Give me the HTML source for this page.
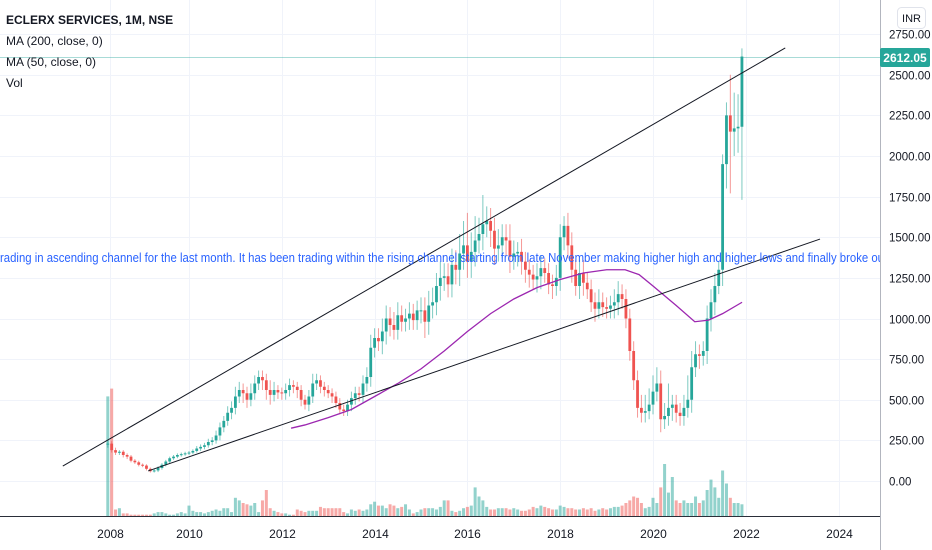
<!DOCTYPE html>
<html><head><meta charset="utf-8">
<style>
html,body{margin:0;padding:0;background:#fff;}
svg{display:block;font-family:"Liberation Sans",sans-serif;}
</style></head>
<body>
<svg id="chart" width="932" height="550" viewBox="0 0 932 550" xmlns="http://www.w3.org/2000/svg">
<defs><clipPath id="plotclip"><rect x="0" y="0" width="880" height="516"/></clipPath></defs>
<g id="grid"></g>
<g id="plot" clip-path="url(#plotclip)"></g>
<line x1="880.5" y1="0" x2="880.5" y2="550" stroke="#b2b5be"/>
<line x1="0" y1="516.5" x2="880" y2="516.5" stroke="#2a2e39"/>
<g id="yaxis"></g>
<g id="xaxis"></g>
<g font-size="12" fill="#131722">
<text x="6" y="24" font-weight="bold">ECLERX SERVICES, 1M, NSE</text>
<text x="6" y="45">MA (200, close, 0)</text>
<text x="6" y="66">MA (50, close, 0)</text>
<text x="6" y="87">Vol</text>
</g>
<g>
<rect x="897.5" y="7.5" width="28" height="21" rx="4" fill="#fff" stroke="#e0e3eb"/>
<text x="911.5" y="22" font-size="11" fill="#131722" text-anchor="middle">INR</text>
</g>
</svg>
<script>
const years=[2008,2009,2010,2011,2012,2013,2014,2015,2016,2017,2018,2019,2020,2021];
const closes=[
230,190,175,180,160,150,125,115,100,
95,75,60,65,80,100,120,140,150,160,165,170,
175,185,200,210,220,240,250,280,330,370,420,450,
520,560,540,500,540,600,640,620,560,530,560,545,
540,560,590,580,560,500,470,520,600,620,580,560,
540,520,480,440,430,470,510,540,530,600,640,820,
880,860,920,1000,960,930,1020,980,1000,1030,990,1050,
1050,980,1080,1100,1200,1250,1260,1210,1330,1300,1400,1450,
1350,1410,1480,1520,1580,1600,1540,1430,1450,1500,1480,1380,
1400,1410,1350,1300,1270,1240,1260,1310,1280,1210,1200,1250,
1500,1570,1450,1300,1200,1280,1220,1180,1100,1060,1100,1070,
1060,1080,1100,1150,1120,1000,800,620,450,420,430,470,
550,600,380,400,450,470,420,400,450,500,700,780,
770,800,1000,1100,1200,1300,1950,2250,2150,2170,2180,2612];
const wickUp=[
20,15,15,10,10,10,10,10,10,
8,8,8,10,10,10,10,10,10,10,10,10,
10,10,15,15,15,20,20,30,30,30,40,40,
60,50,40,40,60,50,40,40,40,60,50,30,
30,40,40,30,30,30,30,40,60,40,30,30,
30,30,30,30,30,30,40,40,40,50,60,80,
60,60,80,80,70,80,80,60,60,70,60,60,
80,80,90,90,80,100,80,80,100,90,120,150,
200,120,150,100,180,90,80,80,100,80,80,100,
80,60,80,60,60,60,80,80,60,60,60,80,
80,60,80,80,60,80,80,60,60,60,80,60,
60,60,80,80,60,60,60,60,60,80,100,100,
100,100,80,80,150,60,60,60,80,150,100,80,
60,60,80,80,80,50,60,80,250,220,200,50];
const wickDn=[
20,15,15,15,15,15,10,10,10,
10,10,8,8,10,10,10,10,10,10,10,10,
10,10,10,15,15,15,20,20,30,30,30,40,
40,40,60,50,40,40,40,60,60,60,40,40,
40,40,40,40,50,40,30,40,40,40,40,40,
30,40,30,30,30,30,40,40,40,50,50,60,
60,60,80,80,70,60,60,60,60,70,60,60,
80,100,80,80,80,90,80,80,80,90,100,100,
100,100,90,80,100,80,100,100,80,80,90,100,
80,80,80,80,80,60,80,80,60,60,80,60,
80,80,80,80,60,80,80,60,60,80,60,60,
60,60,80,80,60,60,60,60,60,60,60,50,
60,60,80,60,60,80,60,60,60,60,80,60,
80,60,80,80,80,50,100,150,380,150,150,450];
const volumes=[
92,98,5,6,2,2,1,1,1,
1,1,1,2,3,3,2,1,1,2,3,2,
8,4,3,3,2,3,4,5,4,6,6,3,
14,12,10,9,8,10,3,12,20,6,4,3,
2,2,1,1,5,4,3,4,4,4,7,6,
6,6,6,6,3,2,5,4,5,4,5,9,
11,8,8,6,9,8,6,7,9,5,2,3,
5,6,6,6,5,7,12,12,4,3,4,6,
7,8,22,15,12,7,5,5,6,6,6,5,
6,5,4,4,5,7,6,8,7,6,5,5,
8,7,6,6,5,5,6,5,6,4,5,6,
5,6,7,7,8,10,12,15,14,10,6,7,
14,10,22,40,18,30,12,10,12,10,10,15,
10,12,20,28,22,14,35,25,14,10,10,9];
const ma50Times=[2012.2,2012.5,2013,2013.5,2014,2014.5,2015,2015.5,2016,2016.5,2017,2017.5,2018,2018.5,2019,2019.4,2019.7,2020,2020.5,2020.9,2021.2,2021.5,2021.92];
const ma50Values=[325,345,390,440,520,600,690,800,920,1030,1120,1190,1240,1280,1300,1300,1270,1200,1080,980,990,1030,1100];
const priceTicks=[0,250,500,750,1000,1250,1500,1750,2000,2250,2500,2750];
const yearTicks=[2008.3,2010,2012,2014,2016,2018,2020,2022,2024];
const yearLabels=["2008","2010","2012","2014","2016","2018","2020","2022","2024"];
const upperLine=[[2007.28,92],[2022.85,2665]];
const lowerLine=[[2009.12,62],[2023.6,1489]];
const lastPrice=2612.05;

const NS="http://www.w3.org/2000/svg";
function xOf(t){return 189+(t-2010)*46.4;}
function yOf(p){return 481-p*0.1625;}
function vOf(v){return v*1.3;}
function mk(tag,attrs,parent){const e=document.createElementNS(NS,tag);for(const k in attrs)e.setAttribute(k,attrs[k]);parent.appendChild(e);return e;}
const grid=document.getElementById('grid'),plot=document.getElementById('plot'),ya=document.getElementById('yaxis'),xa=document.getElementById('xaxis');

priceTicks.forEach(p=>{
  const y=Math.round(yOf(p))+0.5;
  const g=mk('line',{x1:0,x2:880,y1:y,y2:y,stroke:'#f0f3fa'},grid);
  
  
  const t=mk('text',{x:889,y:y+4,'font-size':'11.5',fill:'#131722'},ya);
  t.textContent=p.toFixed(2);
  
  
});
yearTicks.forEach((yr,i)=>{
  const x=Math.round(xOf(yr))+0.5;
  const g=mk('line',{x1:x,x2:x,y1:0,y2:516,stroke:'#f0f3fa'},grid);
  
  
  const t=mk('text',{x:x,y:538,'font-size':'12',fill:'#131722','text-anchor':'middle'},xa);
  t.textContent=yearLabels[i];
  
  
});

const ly=Math.round(yOf(lastPrice))+0.5;
const lpl=mk('line',{x1:0,x2:880,y1:ly,y2:ly,stroke:'#26a69a','stroke-opacity':'0.4'},plot);



const t0=2008.25, dt=1/12;
volumes.forEach((v,i)=>{
  const o=i>0?closes[i-1]:closes[0]-5, c=closes[i];
  const x=xOf(t0+i*dt);
  const h=vOf(v);
  const r=mk('rect',{x:x-1.5,y:516-h,width:3,height:h,fill:c>=o?'rgba(38,166,154,0.5)':'rgba(239,83,80,0.5)'},plot);
  
  
});

closes.forEach((c,i)=>{
  const o=i>0?closes[i-1]:closes[0]-5;
  const x=xOf(t0+i*dt);
  const col=c>=o?'#26a69a':'#ef5350';
  const hi=Math.max(o,c)+wickUp[i], lo=Math.min(o,c)-wickDn[i];
  const w=mk('line',{x1:x,x2:x,y1:yOf(hi),y2:yOf(lo),stroke:col,'stroke-width':1,'stroke-opacity':0.6},plot);
  
  
  const top=yOf(Math.max(o,c)), bh=Math.max(1,yOf(Math.min(o,c))-top);
  const b=mk('rect',{x:x-1.4,y:top,width:2.8,height:bh,fill:col},plot);
  
  
});

const ma=mk('polyline',{points:ma50Times.map((t,i)=>xOf(t)+','+yOf(ma50Values[i])).join(' '),fill:'none',stroke:'#9c27b0','stroke-width':1.3},plot);



[upperLine,lowerLine].forEach((L,k)=>{
  const l=mk('line',{x1:xOf(L[0][0]),y1:yOf(L[0][1]),x2:xOf(L[1][0]),y2:yOf(L[1][1]),stroke:'#131722','stroke-width':1},plot);
  
  
});

const an=mk('text',{x:0,y:262,'font-size':'13',fill:'#2962ff','font-weight':'500','font-family':'"Liberation Sans Narrow","Liberation Sans",sans-serif',textLength:884,lengthAdjust:'spacingAndGlyphs'},plot);
an.textContent='rading in ascending channel for the last month. It has been trading within the rising channel starting from late November making higher high and higher lows and finally broke ou';



const svg=document.getElementById('chart');
const lr=mk('rect',{x:880,y:ly-9.5,width:50,height:19,rx:2,fill:'#26a69a'},svg);


const lt=mk('text',{x:905,y:ly+4.5,'font-size':'12','font-weight':'bold',fill:'#fff','text-anchor':'middle'},svg);
lt.textContent=lastPrice.toFixed(2);


</script>
</body></html>
